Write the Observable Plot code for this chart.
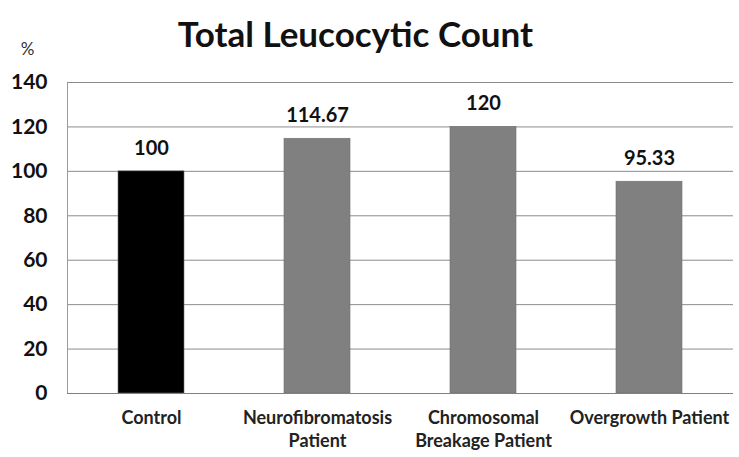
<!DOCTYPE html>
<html>
<head>
<meta charset="utf-8">
<script src="https://cdn.jsdelivr.net/npm/d3@7"></script>
<script src="https://cdn.jsdelivr.net/npm/@observablehq/plot@0.6"></script>
<style>
  html, body { margin: 0; padding: 0; background: #fff; }
  #chart { width: 739px; height: 457px; position: relative; font-family: Lato, "Open Sans", sans-serif; }
  #title { height: 36px; line-height: 40px; position: relative; top: 13px; text-align: center; font-weight: bold; font-size: 35px; color: #111; margin-left: -28px; white-space: nowrap; }
  #chart svg { position: relative; }
</style>
</head>
<body>
<div id="chart">
  <div id="title">Total Leucocytic Count</div>
</div>
<script>
const categories = ["Control", "Neurofibromatosis Patient", "Chromosomal Breakage Patient", "Overgrowth Patient"];
const values = [100, 114.67, 120, 95.33];
const valueLabels = ["100", "114.67", "120", "95.33"];
const tickLabels = ["Control", "Neurofibromatosis\nPatient", "Chromosomal\nBreakage Patient", "Overgrowth Patient"];
const barColors = ["#000000", "#808080", "#808080", "#808080"];
const yTicks = [0, 20, 40, 60, 80, 100, 120, 140];
const yUnit = "%";

const data = categories.map((c, i) => ({category: c, value: values[i], label: valueLabels[i], color: barColors[i]}));
const tickMap = new Map(categories.map((c, i) => [c, tickLabels[i]]));

const plot = Plot.plot({
  width: 739,
  height: 421,
  marginTop: 46,
  marginBottom: 64,
  marginLeft: 67,
  marginRight: 6,
  style: {fontFamily: "Lato, 'Open Sans', sans-serif", background: "transparent"},
  x: {domain: categories, paddingInner: 0.6, paddingOuter: 0.3, label: null},
  y: {domain: [0, 140], ticks: yTicks, label: null},
  marks: [
    Plot.gridY(yTicks, {stroke: "#8c8c8c", strokeOpacity: 1, strokeWidth: 1}),
    Plot.frame({anchor: "left", stroke: "#8e9db0"}),
    Plot.barY(data, {x: "category", y: "value", fill: "color", stroke: "#6f6f6f", strokeWidth: 0.6}),
    Plot.ruleY([0], {stroke: "#808080", strokeWidth: 1.2}),
    Plot.text(data, {x: "category", y: "value", text: "label", dy: -23, lineAnchor: "middle", fontSize: 20, fontWeight: "bold", fill: "#111"}),
    Plot.axisY(yTicks, {tickSize: 0, tickPadding: 20, fontSize: 21, fontWeight: "bold", fill: "#111", label: null}),
    Plot.text([yUnit], {frameAnchor: "top-left", dx: -40, dy: -33, textAnchor: "middle", lineAnchor: "middle", fontSize: 17, fill: "#333"}),
    Plot.axisX({tickSize: 0, tickPadding: 13, fontSize: 18, fontWeight: "bold", fill: "#222", lineHeight: 1.33, tickFormat: d => tickMap.get(d), label: null})
  ]
});
document.getElementById("chart").appendChild(plot);
</script>
</body>
</html>
